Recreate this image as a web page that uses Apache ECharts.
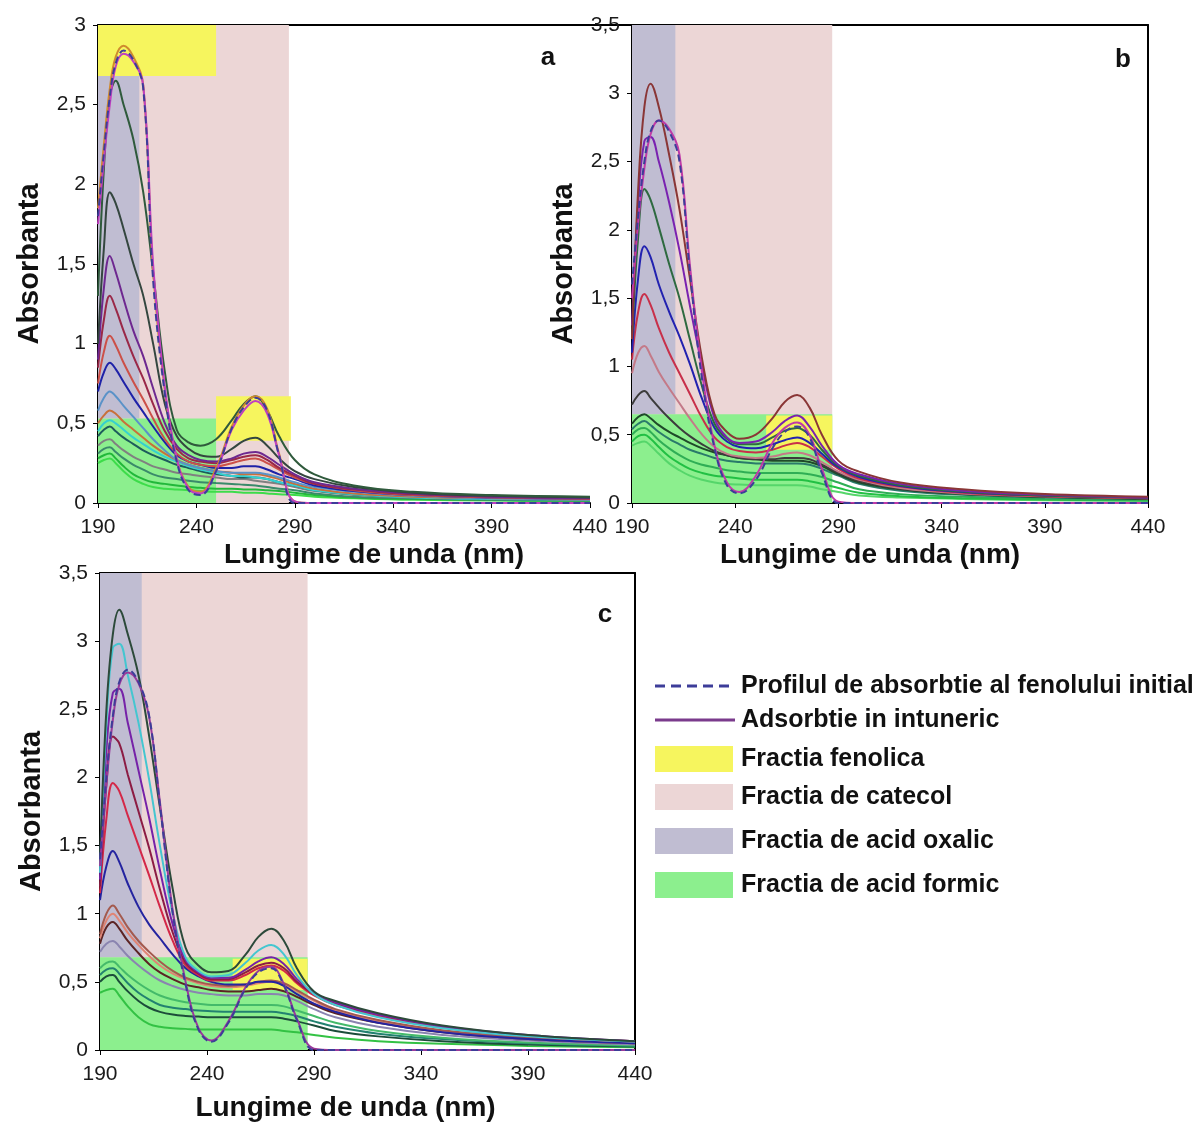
<!DOCTYPE html>
<html>
<head>
<meta charset="utf-8">
<script src="https://cdn.jsdelivr.net/npm/echarts@6/dist/echarts.min.js"></script>
<style>html,body{margin:0;padding:0;background:#fff}#main{width:1200px;height:1126px}</style>
</head>
<body>
<div id="main"></div>
<script>
// lungimi de unda (nm) comune pentru toate spectrele
var wl = [190,193,196,199,203,208,213,218,224,230,236,242,250,258,264,270,276,282,290,300,320,350,390,440];
var xTicks = [190,240,290,340,390,440];

// panoul a
var aPhenol = [1.8,2.2,2.55,2.76,2.84,2.78,2.6,1.4,0.68,0.26,0.08,0.05,0.2,0.47,0.6,0.66,0.58,0.3,0,0,0,0,0,0];
var aOrange = [1.85,2.25,2.6,2.8,2.87,2.8,2.62,1.45,0.7,0.28,0.1,0.07,0.22,0.48,0.61,0.67,0.59,0.31,0.01,0,0,0,0,0];
var aDark = [1.75,2.15,2.5,2.74,2.82,2.77,2.62,1.5,0.72,0.28,0.09,0.06,0.2,0.46,0.58,0.64,0.56,0.3,0.01,0,0,0,0,0];
var a3 = [1.3,2.1,2.55,2.65,2.5,2.28,1.95,1.45,0.82,0.46,0.38,0.36,0.4,0.52,0.62,0.67,0.58,0.42,0.27,0.18,0.11,0.07,0.05,0.04];
var a4 = [1.0,1.6,1.95,1.88,1.72,1.5,1.3,1.0,0.62,0.42,0.34,0.3,0.29,0.34,0.39,0.41,0.36,0.28,0.2,0.15,0.1,0.065,0.045,0.035];
var a5 = [0.9,1.35,1.55,1.45,1.28,1.08,0.92,0.72,0.5,0.36,0.3,0.27,0.26,0.28,0.31,0.32,0.29,0.24,0.18,0.13,0.09,0.06,0.04,0.03];
var a6 = [0.85,1.15,1.3,1.22,1.08,0.92,0.78,0.62,0.45,0.34,0.28,0.26,0.25,0.27,0.29,0.3,0.27,0.22,0.17,0.12,0.085,0.055,0.04,0.03];
var a7 = [0.75,0.95,1.05,0.99,0.88,0.76,0.65,0.53,0.4,0.31,0.26,0.24,0.23,0.25,0.27,0.28,0.25,0.21,0.16,0.12,0.08,0.05,0.035,0.025];
var a8 = [0.7,0.82,0.88,0.84,0.76,0.66,0.57,0.48,0.38,0.3,0.26,0.24,0.22,0.22,0.23,0.23,0.21,0.18,0.15,0.11,0.075,0.05,0.035,0.025];
var a9 = [0.58,0.66,0.7,0.67,0.61,0.54,0.47,0.4,0.33,0.27,0.24,0.22,0.2,0.19,0.19,0.19,0.18,0.16,0.13,0.1,0.07,0.045,0.03,0.02];
var a10 = [0.5,0.55,0.58,0.56,0.51,0.46,0.41,0.36,0.31,0.27,0.24,0.22,0.2,0.19,0.18,0.18,0.17,0.15,0.12,0.09,0.06,0.04,0.03,0.02];
var a11 = [0.45,0.5,0.52,0.5,0.46,0.41,0.37,0.33,0.29,0.26,0.23,0.21,0.19,0.17,0.17,0.16,0.15,0.13,0.11,0.08,0.055,0.035,0.025,0.02];
var a12 = [0.42,0.46,0.48,0.45,0.41,0.37,0.33,0.3,0.27,0.24,0.22,0.2,0.18,0.17,0.16,0.16,0.15,0.13,0.11,0.08,0.055,0.035,0.025,0.02];
var a13 = [0.36,0.39,0.4,0.37,0.33,0.29,0.26,0.23,0.21,0.19,0.18,0.17,0.16,0.15,0.15,0.14,0.13,0.12,0.1,0.075,0.05,0.035,0.025,0.02];
var a14 = [0.31,0.34,0.35,0.32,0.28,0.24,0.21,0.18,0.16,0.15,0.14,0.13,0.125,0.12,0.115,0.11,0.1,0.09,0.08,0.06,0.04,0.03,0.02,0.015];
var a15 = [0.28,0.3,0.31,0.28,0.23,0.18,0.15,0.13,0.12,0.11,0.1,0.095,0.09,0.09,0.085,0.085,0.08,0.075,0.065,0.05,0.035,0.025,0.02,0.015];
var a16 = [0.25,0.27,0.28,0.25,0.2,0.15,0.12,0.1,0.09,0.085,0.08,0.075,0.07,0.07,0.065,0.065,0.06,0.055,0.05,0.04,0.03,0.02,0.015,0.01];

// panoul b
var bPhenol = [1.6,2.1,2.5,2.72,2.8,2.72,2.5,1.7,0.9,0.4,0.13,0.07,0.17,0.4,0.52,0.56,0.48,0.22,0,0,0,0,0,0];
var bDark = [1.5,2.05,2.45,2.7,2.8,2.74,2.55,1.75,0.95,0.42,0.15,0.08,0.2,0.44,0.55,0.59,0.5,0.25,0.01,0,0,0,0,0];
var b1 = [1.2,2.3,2.9,3.07,2.9,2.55,2.15,1.65,1.05,0.65,0.52,0.47,0.5,0.62,0.74,0.79,0.7,0.5,0.31,0.23,0.15,0.1,0.065,0.045];
var b3 = [1.3,2.2,2.65,2.68,2.5,2.2,1.85,1.45,1.0,0.62,0.48,0.44,0.45,0.52,0.6,0.64,0.56,0.42,0.28,0.21,0.14,0.09,0.06,0.04];
var b4 = [1.2,1.95,2.3,2.22,2.02,1.75,1.5,1.2,0.85,0.58,0.47,0.43,0.43,0.48,0.53,0.55,0.5,0.39,0.27,0.2,0.13,0.085,0.055,0.04];
var b5 = [1.1,1.65,1.88,1.8,1.6,1.4,1.22,1.02,0.76,0.55,0.45,0.41,0.4,0.43,0.46,0.48,0.44,0.36,0.26,0.19,0.125,0.08,0.055,0.04];
var b6 = [1.05,1.4,1.53,1.45,1.28,1.1,0.95,0.8,0.62,0.48,0.41,0.38,0.37,0.39,0.42,0.44,0.41,0.34,0.25,0.18,0.12,0.075,0.05,0.035];
var b7 = [0.95,1.1,1.15,1.08,0.96,0.84,0.73,0.62,0.5,0.41,0.36,0.34,0.33,0.34,0.36,0.37,0.35,0.3,0.23,0.17,0.11,0.07,0.05,0.035];
var b8 = [0.72,0.79,0.82,0.77,0.7,0.62,0.55,0.49,0.43,0.38,0.35,0.33,0.32,0.32,0.33,0.33,0.32,0.28,0.22,0.16,0.105,0.07,0.048,0.035];
var b9 = [0.58,0.63,0.65,0.62,0.57,0.52,0.48,0.44,0.4,0.37,0.35,0.33,0.32,0.31,0.31,0.31,0.3,0.27,0.21,0.15,0.1,0.065,0.045,0.03];
var b10 = [0.54,0.58,0.6,0.57,0.52,0.47,0.43,0.39,0.36,0.33,0.31,0.3,0.29,0.29,0.29,0.29,0.28,0.25,0.2,0.14,0.09,0.06,0.04,0.03];
var b11 = [0.5,0.54,0.55,0.52,0.46,0.4,0.35,0.31,0.28,0.26,0.24,0.23,0.22,0.22,0.22,0.22,0.21,0.19,0.15,0.1,0.065,0.045,0.03,0.02];
var b12 = [0.45,0.49,0.5,0.47,0.41,0.34,0.29,0.25,0.22,0.2,0.19,0.18,0.17,0.17,0.17,0.17,0.16,0.14,0.11,0.075,0.05,0.035,0.025,0.02];
var b13 = [0.42,0.44,0.45,0.42,0.36,0.29,0.24,0.2,0.17,0.15,0.14,0.135,0.13,0.13,0.13,0.13,0.12,0.1,0.08,0.055,0.04,0.03,0.02,0.015];

// panoul c
var cPhenol = [1.4,2.0,2.45,2.7,2.79,2.7,2.45,1.8,1.0,0.48,0.15,0.06,0.2,0.45,0.57,0.6,0.47,0.22,0,0,0,0,0,0];
var cDark = [1.35,1.95,2.42,2.68,2.77,2.69,2.44,1.82,1.02,0.5,0.16,0.07,0.21,0.46,0.58,0.61,0.48,0.23,0.01,0,0,0,0,0];
var c1 = [1.4,2.5,3.05,3.23,3.05,2.75,2.3,1.78,1.18,0.75,0.62,0.57,0.58,0.7,0.83,0.89,0.8,0.6,0.43,0.36,0.27,0.18,0.11,0.065];
var c2 = [1.3,2.4,2.95,2.98,2.75,2.4,1.98,1.5,1.0,0.68,0.58,0.54,0.55,0.64,0.73,0.77,0.7,0.55,0.41,0.33,0.24,0.16,0.1,0.06];
var c4 = [1.25,2.2,2.62,2.65,2.4,2.05,1.7,1.32,0.92,0.66,0.57,0.53,0.53,0.59,0.65,0.68,0.63,0.52,0.42,0.35,0.26,0.175,0.11,0.065];
var c5 = [1.2,1.95,2.3,2.25,2.02,1.75,1.48,1.18,0.86,0.64,0.56,0.52,0.52,0.57,0.62,0.64,0.6,0.5,0.41,0.34,0.26,0.17,0.105,0.065];
var c6 = [1.15,1.7,1.96,1.9,1.72,1.5,1.28,1.05,0.8,0.62,0.55,0.51,0.51,0.55,0.6,0.62,0.58,0.49,0.4,0.33,0.25,0.165,0.1,0.06];
var c7 = [1.1,1.35,1.46,1.38,1.22,1.05,0.92,0.82,0.7,0.6,0.54,0.5,0.48,0.48,0.5,0.5,0.47,0.41,0.34,0.28,0.2,0.13,0.08,0.05];
var c8 = [0.85,1.0,1.06,1.0,0.9,0.8,0.72,0.65,0.58,0.53,0.5,0.48,0.47,0.48,0.5,0.51,0.49,0.44,0.37,0.3,0.22,0.145,0.09,0.055];
var c9 = [0.82,0.95,1.0,0.95,0.86,0.77,0.69,0.62,0.56,0.52,0.49,0.47,0.46,0.47,0.49,0.5,0.48,0.43,0.36,0.29,0.21,0.14,0.085,0.05];
var c10 = [0.78,0.9,0.94,0.89,0.8,0.71,0.63,0.57,0.52,0.48,0.46,0.44,0.43,0.43,0.44,0.45,0.43,0.39,0.33,0.27,0.2,0.13,0.08,0.05];
var c11 = [0.72,0.78,0.8,0.76,0.69,0.62,0.56,0.51,0.47,0.44,0.42,0.41,0.4,0.4,0.41,0.41,0.4,0.36,0.3,0.24,0.17,0.11,0.07,0.04];
var c12 = [0.6,0.64,0.65,0.61,0.55,0.49,0.44,0.4,0.37,0.35,0.34,0.33,0.33,0.33,0.33,0.33,0.32,0.29,0.25,0.2,0.14,0.09,0.055,0.035];
var c13 = [0.55,0.59,0.6,0.56,0.49,0.42,0.37,0.33,0.31,0.3,0.29,0.285,0.28,0.28,0.28,0.28,0.27,0.25,0.21,0.17,0.12,0.08,0.05,0.03];
var c14 = [0.5,0.54,0.55,0.5,0.43,0.36,0.31,0.28,0.26,0.25,0.245,0.24,0.24,0.24,0.24,0.24,0.23,0.21,0.18,0.14,0.1,0.065,0.04,0.025];
var c15 = [0.42,0.44,0.45,0.4,0.32,0.24,0.19,0.17,0.16,0.155,0.15,0.15,0.15,0.15,0.15,0.15,0.14,0.13,0.11,0.09,0.065,0.045,0.03,0.02];

// zonele fractiilor: [fractie, x1, y1, x2, y2]
var zonesA = [['catecol',190,0,287,3],['oxalic',190,0.53,211,2.68],['fenolica',190,2.68,250,3],['formic',190,0,250,0.53],['fenolica',250,0.39,288,0.67]];
var zonesB = [['catecol',190,0,287,3.5],['oxalic',190,0.65,211,3.5],['formic',190,0,287,0.65],['fenolica',255,0.39,287,0.64]];
var zonesC = [['catecol',190,0,287,3.5],['oxalic',190,0.68,209.5,3.5],['formic',190,0,287,0.68],['fenolica',252,0.44,287,0.67]];

var fracColor = {fenolica:'#f6f55e', catecol:'#ecd6d6', oxalic:'#c0bdd2', formic:'#8cef8e'};
var dashColor = '#3d3d99';

var chart = echarts.init(document.getElementById('main'));

function pts(v) {
    return wl.map(function (x, i) { return [x, v[i]]; });
}

function curve(gi, v, color, dashed) {
    return {
        type: 'line', xAxisIndex: gi, yAxisIndex: gi,
        data: pts(v),
        showSymbol: false, smooth: 0.4, silent: true,
        lineStyle: {color: color, width: 2, type: dashed ? [7, 4] : 'solid'},
        itemStyle: {color: color}
    };
}

function zones(gi, list) {
    return {
        type: 'line', xAxisIndex: gi, yAxisIndex: gi, data: [], silent: true,
        markArea: {
            silent: true,
            data: list.map(function (z) {
                return [{xAxis: z[1], yAxis: z[2], itemStyle: {color: fracColor[z[0]], opacity: 1}},
                        {xAxis: z[3], yAxis: z[4]}];
            })
        }
    };
}

var fontAxis = {fontFamily: 'Liberation Sans', fontWeight: 'bold', fontSize: 28, color: '#111'};
var tickFont = {fontFamily: 'Liberation Sans', fontSize: 21, color: '#1a1a1a'};

function xBottom(gi, pad, gap) {
    return {
        type: 'value', gridIndex: gi, min: 190, max: 440, interval: 50,
        name: 'Lungime de unda (nm)', nameLocation: 'middle', nameGap: gap,
        nameTextStyle: Object.assign({padding: pad}, fontAxis),
        axisLine: {show: true, onZero: false, lineStyle: {color: '#000', width: 2}},
        axisTick: {show: true, length: 5, lineStyle: {color: '#000'}},
        axisLabel: Object.assign({margin: 14, customValues: xTicks}, tickFont),
        splitLine: {show: false}
    };
}
function yLeft(gi, max) {
    return {
        type: 'value', gridIndex: gi, min: 0, max: max, interval: 0.5,
        name: 'Absorbanta', nameLocation: 'middle', nameGap: 54, nameRotate: 90,
        nameTextStyle: Object.assign({}, fontAxis, {fontSize: 29}),
        axisLine: {show: true, lineStyle: {color: '#000', width: 2}},
        axisTick: {show: true, length: 5, lineStyle: {color: '#000'}},
        axisLabel: Object.assign({margin: 12,
            formatter: function (v) { return String(v).replace('.', ','); }}, tickFont),
        splitLine: {show: false}
    };
}
function frameX(gi) {
    return {type: 'value', gridIndex: gi, position: 'top', min: 190, max: 440,
        axisLine: {show: true, onZero: false, lineStyle: {color: '#000', width: 2}},
        axisTick: {show: false}, axisLabel: {show: false}, splitLine: {show: false}};
}
function frameY(gi, max) {
    return {type: 'value', gridIndex: gi, position: 'right', min: 0, max: max,
        axisLine: {show: true, onZero: false, lineStyle: {color: '#000', width: 2}},
        axisTick: {show: false}, axisLabel: {show: false}, splitLine: {show: false}};
}

var series = [
    zones(0, zonesA),
    curve(0, a16, '#3ddc4a'), curve(0, a15, '#22b83a'), curve(0, a14, '#3a8a6a'),
    curve(0, a13, '#808080'), curve(0, a12, '#1d5c5c'), curve(0, a11, '#35d0d0'),
    curve(0, a10, '#c8703a'), curve(0, a9, '#5a92c8'), curve(0, a8, '#1e22a8'),
    curve(0, a7, '#cc5048'), curve(0, a6, '#9a2848'), curve(0, a5, '#6e2890'),
    curve(0, a4, '#34463f'), curve(0, a3, '#2f5a3c'), curve(0, aOrange, '#cf8a2e'),
    curve(0, aDark, '#c040c0'), curve(0, aPhenol, dashColor, true),

    zones(1, zonesB),
    curve(1, b13, '#55d66a'), curve(1, b12, '#22c044'), curve(1, b11, '#2fae55'),
    curve(1, b10, '#2a7a6a'), curve(1, b9, '#1f4a2a'), curve(1, b8, '#3c3c3c'),
    curve(1, b7, '#c47a88'), curve(1, b6, '#c8304a'), curve(1, b5, '#2222b0'),
    curve(1, b4, '#2e6a40'), curve(1, b3, '#7a22b0'), curve(1, b1, '#8a3636'),
    curve(1, bDark, '#c03aa8'), curve(1, bPhenol, dashColor, true),

    zones(2, zonesC),
    curve(2, c15, '#33c244'), curve(2, c14, '#1c4c3a'), curve(2, c13, '#228270'),
    curve(2, c12, '#44ba6a'), curve(2, c11, '#8a84b0'), curve(2, c10, '#5c2424'),
    curve(2, c9, '#e08474'), curve(2, c8, '#a45a4e'), curve(2, c7, '#2424a0'),
    curve(2, c6, '#d42848'), curve(2, c5, '#8c1c44'), curve(2, c4, '#7622a8'),
    curve(2, c2, '#44c6d0'), curve(2, c1, '#2c4a3a'), curve(2, cDark, '#9a3a9a'),
    curve(2, cPhenol, dashColor, true)
];

var legendFont = 'bold 25px "Liberation Sans"';
var legendRows = [
    ['line', 'Profilul de absorbtie al fenolului initial', 686],
    ['solid', 'Adsorbtie in intuneric', 720],
    ['fenolica', 'Fractia fenolica', 759],
    ['catecol', 'Fractia de catecol', 797],
    ['oxalic', 'Fractia de acid oxalic', 841],
    ['formic', 'Fractia de acid formic', 885]
];
var graphics = [
    {type: 'line', shape: {x1: 590, y1: 25, x2: 632, y2: 25}, style: {stroke: '#000', lineWidth: 2}},
    {type: 'text', x: 548, y: 58, style: {text: 'a', font: 'bold 26px "Liberation Sans"', fill: '#111', align: 'center', verticalAlign: 'middle'}},
    {type: 'text', x: 1123, y: 60, style: {text: 'b', font: 'bold 26px "Liberation Sans"', fill: '#111', align: 'center', verticalAlign: 'middle'}},
    {type: 'text', x: 605, y: 615, style: {text: 'c', font: 'bold 26px "Liberation Sans"', fill: '#111', align: 'center', verticalAlign: 'middle'}}
];
legendRows.forEach(function (r) {
    if (r[0] === 'line') {
        graphics.push({type: 'line', shape: {x1: 655, y1: r[2], x2: 735, y2: r[2]},
            style: {stroke: dashColor, lineWidth: 3, lineDash: [10, 6]}});
    } else if (r[0] === 'solid') {
        graphics.push({type: 'line', shape: {x1: 655, y1: r[2], x2: 735, y2: r[2]},
            style: {stroke: '#7a3b8c', lineWidth: 3}});
    } else {
        graphics.push({type: 'rect', shape: {x: 655, y: r[2] - 13, width: 78, height: 26},
            style: {fill: fracColor[r[0]]}});
    }
    graphics.push({type: 'text', x: 741, y: r[2], style: {text: r[1], font: legendFont, fill: '#111',
        align: 'left', verticalAlign: 'middle'}});
});

chart.setOption({
    backgroundColor: '#fff',
    animation: false,
    grid: [
        {left: 98, top: 25, width: 492, height: 478},
        {left: 632, top: 25, width: 516, height: 478},
        {left: 100, top: 573, width: 535, height: 477}
    ],
    xAxis: [xBottom(0, [0, 0, 0, 60], 38), xBottom(1, [0, 40, 0, 0], 38), xBottom(2, [0, 44, 0, 0], 44),
            frameX(0), frameX(1), frameX(2)],
    yAxis: [yLeft(0, 3), yLeft(1, 3.5), yLeft(2, 3.5), frameY(1, 3.5), frameY(2, 3.5)],
    series: series,
    graphic: graphics
});
</script>
</body>
</html>
